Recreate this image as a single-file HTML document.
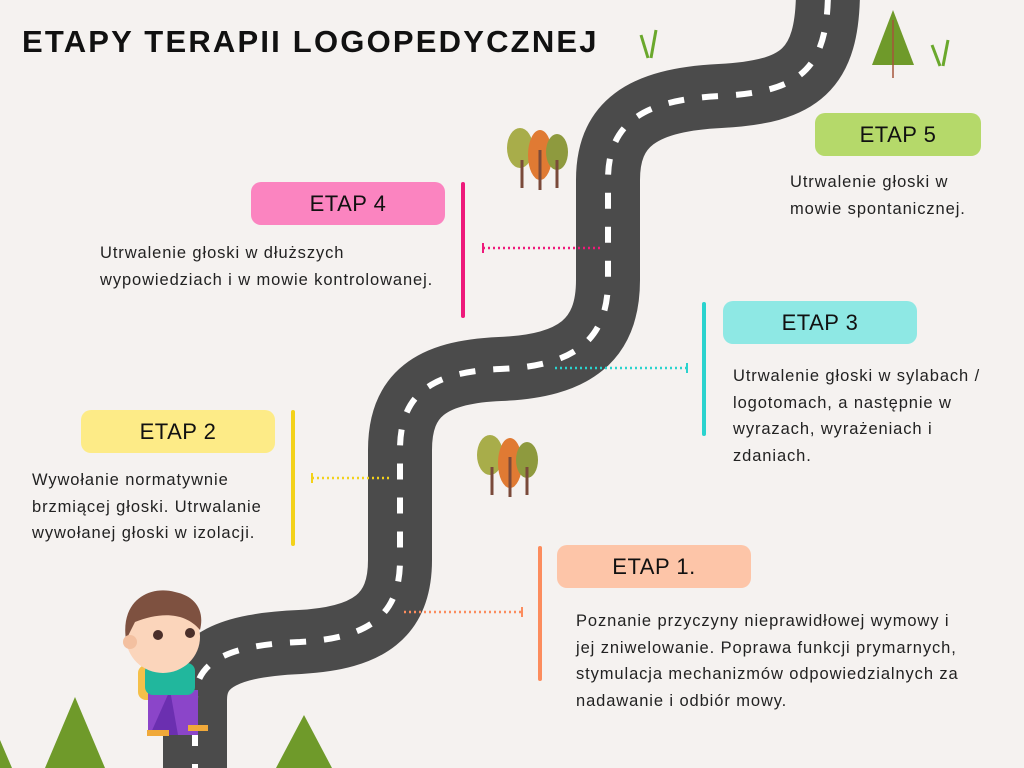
<!DOCTYPE html>
<html><head><meta charset="utf-8"><style>
body{margin:0;width:1024px;height:768px;overflow:hidden;background:#f5f2f0;font-family:"Liberation Sans",sans-serif;position:relative}
.t{position:absolute;font-size:16.5px;line-height:26.5px;color:#222;letter-spacing:0.9px;white-space:nowrap}
.b{position:absolute;height:43px;border-radius:10px;font-size:22px;line-height:43px;text-align:center;color:#111;letter-spacing:0.5px}
.bar{position:absolute;width:4px;border-radius:2px}
h1{position:absolute;left:22px;top:24px;margin:0;font-size:31px;font-weight:bold;color:#111;letter-spacing:2.2px;white-space:nowrap}
</style></head><body>
<svg width="1024" height="768" style="position:absolute;left:0;top:0">
<path d="M195,780 L195,700 C195,660 230,645 300,642 C370,638 400,615 400,560 L400,450 C400,395 430,372 500,369 C575,366 608,340 608,280 L608,180 C608,125 640,100 720,96 C800,92 828,70 828,-10" fill="none" stroke="#4b4b4b" stroke-width="64"/>
<path d="M195,780 L195,700 C195,660 230,645 300,642 C370,638 400,615 400,560 L400,450 C400,395 430,372 500,369 C575,366 608,340 608,280 L608,180 C608,125 640,100 720,96 C800,92 828,70 828,-10" fill="none" stroke="#fff" stroke-width="6" stroke-dasharray="16 18"/>
<g stroke-width="2.5" stroke-dasharray="2 3" fill="none">
<line x1="483" y1="248" x2="600" y2="248" stroke="#ee1a7b"/>
<line x1="555" y1="368" x2="687" y2="368" stroke="#2ad3ce"/>
<line x1="312" y1="478" x2="392" y2="478" stroke="#f3d21a"/>
<line x1="404" y1="612" x2="522" y2="612" stroke="#fc8c5d"/>
</g>
<line x1="483" y1="243" x2="483" y2="253" stroke="#ee1a7b" stroke-width="2"/>
<line x1="687" y1="363" x2="687" y2="373" stroke="#2ad3ce" stroke-width="2"/>
<line x1="312" y1="473" x2="312" y2="483" stroke="#f3d21a" stroke-width="2"/>
<line x1="522" y1="607" x2="522" y2="617" stroke="#fc8c5d" stroke-width="2"/>
<g fill="#6f9a2a"><polygon points="893,10 872,65 914,65"/><polygon points="75,697 45,768 105,768"/><polygon points="304,715 276,768 332,768"/><polygon points="0,740 0,768 12,768"/></g>
<line x1="893" y1="20" x2="893" y2="78" stroke="#a5553a" stroke-width="1.5"/>
<g stroke="#6aa82c" stroke-width="3" fill="none"><path d="M648,58 L641,35 M651,58 L656,30"/><path d="M940,66 L932,45 M943,66 L948,40"/></g>
<g><ellipse cx="520" cy="148" rx="13" ry="20" fill="#a8ad4a"/><ellipse cx="540" cy="155" rx="12" ry="25" fill="#e07a33"/><ellipse cx="557" cy="152" rx="11" ry="18" fill="#8e9a3e"/>
<path d="M522,188 V160 M540,190 V150 M557,188 V160" stroke="#7a4a3a" stroke-width="3"/></g>
<g><ellipse cx="490" cy="455" rx="13" ry="20" fill="#a8ad4a"/><ellipse cx="510" cy="463" rx="12" ry="25" fill="#e07a33"/><ellipse cx="527" cy="460" rx="11" ry="18" fill="#8e9a3e"/>
<path d="M492,495 V467 M510,497 V457 M527,495 V467" stroke="#7a4a3a" stroke-width="3"/></g>
<g>
<rect x="138" y="665" width="22" height="35" rx="8" fill="#f5c04a"/>
<rect x="148" y="690" width="50" height="45" fill="#8b45c9"/>
<polygon points="150,735 178,735 170,690" fill="#6b2fb0"/>
<rect x="147" y="730" width="22" height="6" fill="#f0a93a"/>
<rect x="188" y="725" width="20" height="6" fill="#f0a93a"/>
<rect x="145" y="663" width="50" height="32" rx="8" fill="#21b79d"/>
<ellipse cx="163" cy="637" rx="37" ry="36" fill="#fbd5bb"/>
<path d="M126,640 C120,600 150,585 175,592 C195,596 205,610 200,630 C185,612 160,612 135,622 Z" fill="#7e5140"/>
<circle cx="158" cy="635" r="5" fill="#4a2f2a"/><circle cx="190" cy="633" r="5" fill="#4a2f2a"/>
<circle cx="130" cy="642" r="7" fill="#f3c0a0"/>
</g>
</svg>
<h1>ETAPY TERAPII LOGOPEDYCZNEJ</h1>
<div class="b" style="left:815px;top:113px;width:166px;background:#b5d96a">ETAP 5</div>
<div class="t" style="left:790px;top:169px">Utrwalenie głoski w<br>mowie spontanicznej.</div>
<div class="b" style="left:251px;top:182px;width:194px;background:#fb84c0">ETAP 4</div>
<div class="bar" style="left:461px;top:182px;height:136px;background:#ee1a7b"></div>
<div class="t" style="left:100px;top:240px">Utrwalenie głoski w dłuższych<br>wypowiedziach i w mowie kontrolowanej.</div>
<div class="b" style="left:723px;top:301px;width:194px;background:#8ee8e4">ETAP 3</div>
<div class="bar" style="left:702px;top:302px;height:134px;background:#2ad3ce"></div>
<div class="t" style="left:733px;top:363px">Utrwalenie głoski w sylabach /<br>logotomach, a następnie w<br>wyrazach, wyrażeniach i<br>zdaniach.</div>
<div class="b" style="left:81px;top:410px;width:194px;background:#fdeb87">ETAP 2</div>
<div class="bar" style="left:291px;top:410px;height:136px;background:#f3d21a"></div>
<div class="t" style="left:32px;top:467px">Wywołanie normatywnie<br>brzmiącej głoski. Utrwalanie<br>wywołanej głoski w izolacji.</div>
<div class="b" style="left:557px;top:545px;width:194px;background:#fdc5a8">ETAP 1.</div>
<div class="bar" style="left:538px;top:546px;height:135px;background:#fc8c5d"></div>
<div class="t" style="left:576px;top:608px">Poznanie przyczyny nieprawidłowej wymowy i<br>jej zniwelowanie. Poprawa funkcji prymarnych,<br>stymulacja mechanizmów odpowiedzialnych za<br>nadawanie i odbiór mowy.</div>
</body></html>
